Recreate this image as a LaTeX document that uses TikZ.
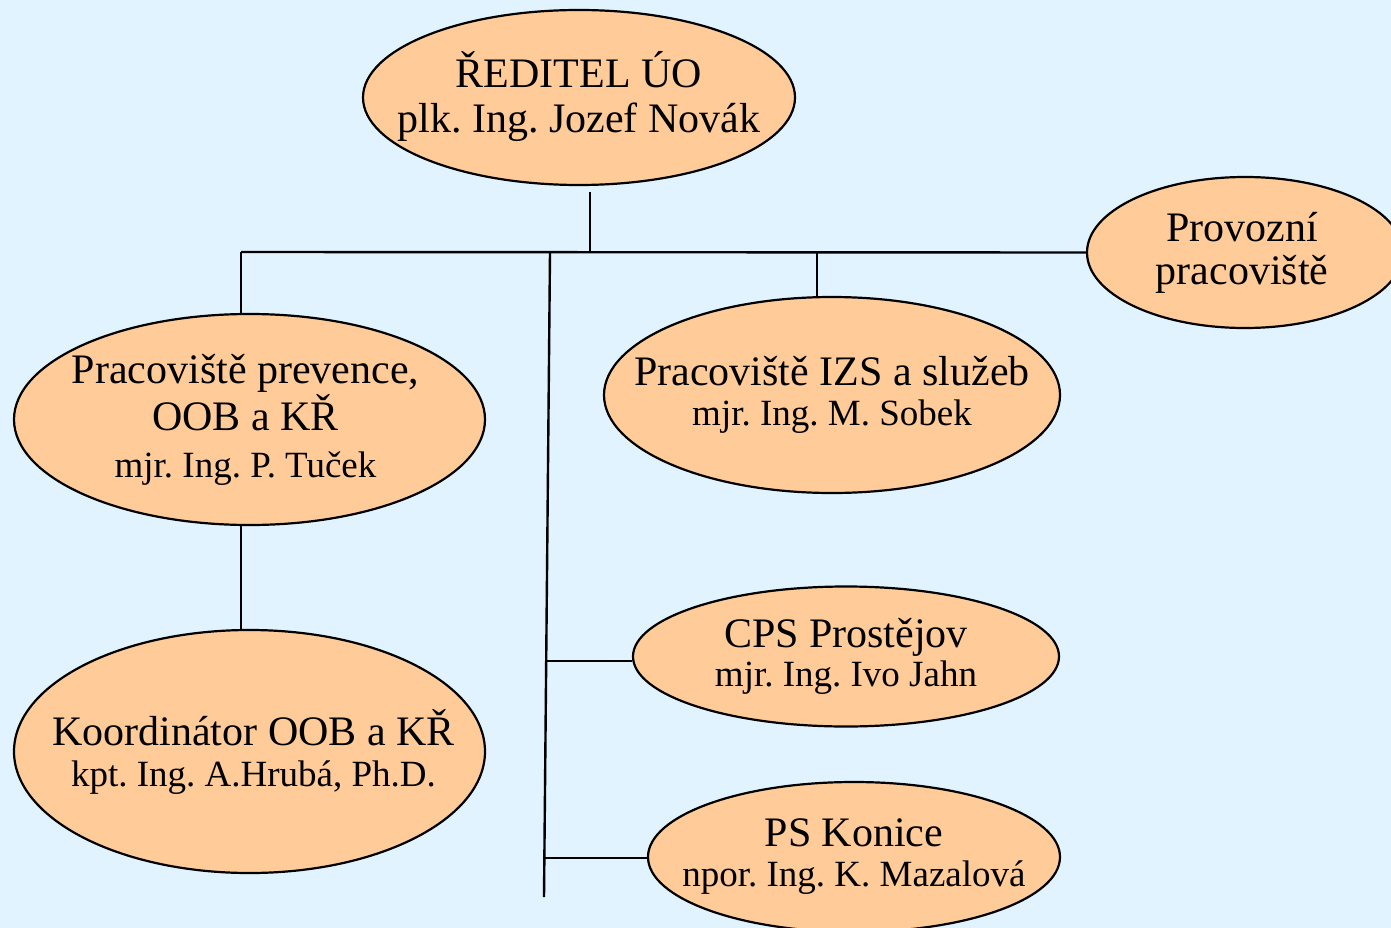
\documentclass[tikz,border=0pt]{standalone}
\usepackage{fontspec}
\setmainfont{Liberation Serif}
\usetikzlibrary{shapes.geometric,calc}
\definecolor{bgblue}{RGB}{225,243,254}
\definecolor{peach}{RGB}{255,204,153}
\tikzset{
  unit/.style={ellipse, draw=black, line width=2.2pt, fill=peach, inner sep=0pt},
  caption/.style={inner sep=0pt, align=center, font=\fontsize{42}{46}\selectfont},
  wire/.style={line width=2.4pt, black},
}
\newcommand{\smallline}[1]{{\fontsize{37}{40}\selectfont #1}}
\begin{document}
\frenchspacing
\begin{tikzpicture}[x=1pt,y=-1pt]
\useasboundingbox (0,0) rectangle (1391,928);
\clip (0,0) rectangle (1391,928);
\fill[bgblue] (0,0) rectangle (1391,928);

% units
\node[unit, minimum width=432pt, minimum height=175pt] (dir) at (579,97.5) {};
\node[caption] (dirt) at ($(dir.center)+(0,-1)$)
  {ŘEDITEL ÚO\\[-1pt]plk. Ing. Jozef Novák};
\node[unit, minimum width=316pt, minimum height=151pt] (prov) at (1245,252.5) {};
\node[caption] (provt) at ($(prov.center)+(-3,0)$)
  {Provozní\\[-3pt]pracoviště};
\node[unit, minimum width=471pt, minimum height=211pt] (prev) at (249.5,419.5) {};
\node[caption] (prevt) at ($(prev.center)+(-4,0)$)
  {Pracoviště prevence,\\[1pt]OOB a KŘ\\[1pt]\smallline{mjr. Ing. P. Tuček}};
\node[unit, minimum width=456pt, minimum height=196pt] (izs) at (832,395) {};
\node[caption] (izst) at (izs.center)
  {Pracoviště IZS a služeb\\[-6pt]\smallline{mjr. Ing. M. Sobek}};
\node[unit, minimum width=471pt, minimum height=243pt] (koord) at (249.5,751.5) {};
\node[caption] (koordt) at ($(koord.center)+(4,0)$)
  {Koordinátor OOB a KŘ\\[-5pt]\smallline{kpt. Ing. A.Hrubá, Ph.D.}};
\node[unit, minimum width=426pt, minimum height=140pt] (cps) at (846,656.5) {};
\node[caption] (cpst) at (cps.center)
  {CPS Prostějov\\[-7pt]\smallline{mjr. Ing. Ivo Jahn}};
\node[unit, minimum width=412pt, minimum height=150pt] (kon) at (854,857) {};
\node[caption] (kont) at (kon.center)
  {PS Konice\\[-6pt]\smallline{npor. Ing. K. Mazalová}};

% junction points
\coordinate (stemtop) at (590,192);
\coordinate (jtop) at (590,252);
\coordinate (jleft) at (241,252);
\coordinate (jizs) at (817,252);
\coordinate (jspine) at (550,252);
\coordinate (spineend) at (544,897);
\coordinate (jcps) at (545.2,661);
\coordinate (jkon) at (544.7,858);

% connectors
\draw[wire] (stemtop) -- (jtop);
\draw[wire] (jleft) -- (prov.west);
\draw[wire] (jleft) -- (jleft |- prev.north);
\draw[wire] (jizs) -- (jizs |- izs.north);
\draw[wire] (jspine) -- (spineend);
\draw[wire] (jcps) -- (jcps -| cps.west);
\draw[wire] (jkon) -- (jkon -| kon.west);
\draw[wire] (prev.south -| jleft) -- (koord.north -| jleft);
\end{tikzpicture}
\end{document}
